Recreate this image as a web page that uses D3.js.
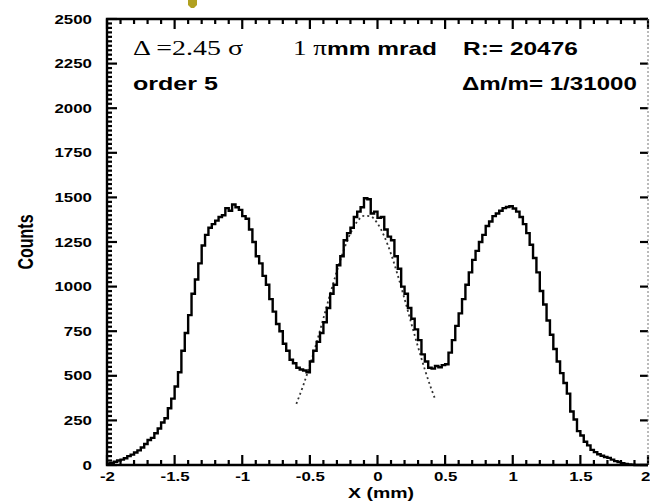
<!DOCTYPE html>
<html lang="en">
<head>
  <meta charset="UTF-8">
  <title>Counts vs X (mm)</title>
  <script src="https://d3js.org/d3.v7.min.js"></script>
  <style>
    body { margin: 0; background: #fff; }
    svg { display: block; }
    .tick text { font-family: "Liberation Sans", Arial, sans-serif; font-weight: bold; font-size: 12.5px; fill: #000; }
  </style>
</head>
<body>
  <div id="chart"></div>

  <script>
    // histogram: counts per 0.025 mm bin, starting at -2 mm
    const binStart = -2;
    const binWidth = 0.025;
    const counts = [
      8, 12, 18, 25, 30, 38, 50, 58, 70, 82, 98, 118, 140, 152, 178, 205, 238, 262, 318, 372,
      440, 520, 640, 740, 840, 960, 1040, 1130, 1230, 1290, 1330, 1350, 1370, 1390, 1400, 1440, 1425, 1460, 1445, 1430,
      1395, 1380, 1320, 1250, 1170, 1130, 1060, 1010, 930, 860, 790, 750, 680, 640, 590, 570, 545, 535, 530, 520,
      580, 640, 690, 740, 800, 880, 960, 1010, 1120, 1170, 1260, 1300, 1330, 1390, 1420, 1445, 1495, 1490, 1410, 1420,
      1385, 1390, 1320, 1280, 1260, 1170, 1100, 1000, 960, 880, 820, 760, 700, 620, 580, 545, 540, 555, 548, 560,
      565, 630, 700, 780, 850, 930, 1010, 1080, 1150, 1200, 1250, 1290, 1340, 1365, 1395, 1410, 1425, 1440, 1446, 1450,
      1438, 1420, 1390, 1350, 1300, 1235, 1160, 1080, 975, 900, 810, 730, 650, 580, 515, 460, 400, 300, 255, 190,
      165, 130, 110, 85, 72, 60, 52, 45, 40, 30, 22, 17, 10, 6, 3, 2, 0, 0, 0, 0
    ];

    // dotted fit of the middle peak
    const fitX = [-0.60, -0.55, -0.50, -0.45, -0.40, -0.35, -0.30, -0.25, -0.20, -0.15, -0.10, -0.05,
                  0.00, 0.05, 0.10, 0.15, 0.20, 0.25, 0.30, 0.35, 0.40, 0.43];
    const fitY = [343, 444, 559, 687, 822, 958, 1088, 1204, 1299, 1365, 1397, 1393,
                  1354, 1282, 1183, 1063, 931, 794, 661, 535, 422, 362];

    // axes
    const xTicks = [-2, -1.5, -1, -0.5, 0, 0.5, 1, 1.5, 2];
    const xTickLabels = ["-2", "-1.5", "-1", "-0.5", "0", "0.5", "1", "1.5", "2"];
    const yTicks = [0, 250, 500, 750, 1000, 1250, 1500, 1750, 2000, 2250, 2500];

    const W = 650, H = 502;
    const mLeft = 107, mRight = 648, mTop = 19, mBottom = 465;
    const sans = '"Liberation Sans", Arial, sans-serif';
    const serif = '"Liberation Serif", "Times New Roman", serif';

    const svg = d3.select("#chart").append("svg")
      .attr("width", W)
      .attr("height", H);

    const x = d3.scaleLinear().domain([-2, 2]).range([mLeft, mRight]);
    const y = d3.scaleLinear().domain([0, 2500]).range([mBottom, mTop]);

    // squash/stretch tick labels horizontally like the scanned figure
    function stretchTicks(g, sx) {
      g.selectAll(".tick text").each(function () {
        const t = d3.select(this);
        const tx = +t.attr("x") || 0, ty = +t.attr("y") || 0;
        t.attr("x", 0).attr("y", 0)
         .attr("transform", `translate(${tx},${ty}) scale(${sx},1)`);
      });
    }

    const xMinor = d3.range(-2, 2.001, 0.1).filter(v => Math.abs(v * 2 - Math.round(v * 2)) > 1e-6);
    const yMinor = d3.range(0, 2501, 25).filter(v => v % 250 !== 0);

    // dotted fit curve (under the histogram)
    const fitPts = fitX.map((v, i) => ({ x: v, c: fitY[i] }));
    svg.append("path")
       .datum(fitPts)
       .attr("fill", "none")
       .attr("stroke", "#333")
       .attr("stroke-width", 1.8)
       .attr("stroke-dasharray", "2,3")
       .attr("d", d3.line().x(d => x(d.x)).y(d => y(d.c)).curve(d3.curveMonotoneX));

    // tick labels
    const gLeft = svg.append("g").attr("transform", `translate(${mLeft},0)`);
    gLeft.call(d3.axisLeft(y).tickValues(yTicks).tickSize(0).tickPadding(15).tickFormat(d3.format("d")));
    stretchTicks(gLeft, 1.35);

    const gBottom = svg.append("g").attr("transform", `translate(0,${mBottom})`);
    gBottom.call(d3.axisBottom(x).tickValues(xTicks).tickSize(0).tickPadding(7)
      .tickFormat((d, i) => xTickLabels[i]));
    stretchTicks(gBottom, 1.35);
    // last label would run off the page: right-align it
    gBottom.selectAll(".tick text").filter(d => d === 2).attr("text-anchor", "end")
      .attr("transform", "translate(2,7) scale(1.35,1)");

    svg.selectAll(".domain").remove();

    // tick marks
    const tickG = svg.append("g").attr("stroke", "#000").attr("stroke-width", 2.2);
    function hTicks(vals, len, x0, dir) {
      tickG.selectAll(null).data(vals).enter().append("line")
        .attr("x1", x0).attr("x2", x0 + dir * len)
        .attr("y1", d => y(d)).attr("y2", d => y(d));
    }
    function vTicks(vals, len, y0, dir) {
      tickG.selectAll(null).data(vals).enter().append("line")
        .attr("y1", y0).attr("y2", y0 + dir * len)
        .attr("x1", d => x(d)).attr("x2", d => x(d));
    }
    hTicks(yTicks, 10, mLeft, 1);
    hTicks(yMinor, 5, mLeft, 1);
    hTicks(yTicks, 8, mRight, -1);
    vTicks(xTicks, 10, mBottom, -1);
    vTicks(xMinor, 5, mBottom, -1);
    vTicks(xTicks, 10, mTop, 1);
    vTicks(xMinor, 5, mTop, 1);

    // frame
    svg.append("path")
       .attr("d", `M${mRight},${mTop}H${mLeft}V${mBottom}H${mRight}`)
       .attr("fill", "none").attr("stroke", "#000").attr("stroke-width", 2.4);
    svg.append("line")
       .attr("x1", mRight).attr("x2", mRight).attr("y1", mTop).attr("y2", mBottom)
       .attr("stroke", "#777").attr("stroke-width", 1).attr("stroke-dasharray", "2,2");

    // histogram
    const steps = counts.map((c, i) => ({ x: binStart + i * binWidth, c }));
    steps.push({ x: binStart + counts.length * binWidth, c: counts[counts.length - 1] });
    svg.append("path")
       .datum(steps)
       .attr("fill", "none")
       .attr("stroke", "#000")
       .attr("stroke-width", 2.4)
       .attr("stroke-linejoin", "miter")
       .attr("d", d3.line().x(d => x(d.x)).y(d => y(d.c)).curve(d3.curveStepAfter));

    // text helper: place text so its left edge is at x0 and it spans width w
    function label(x0, y0, w, build) {
      const t = svg.append("text").attr("x", 0).attr("y", 0);
      build(t);
      const bw = t.node().getComputedTextLength();
      t.attr("transform", `translate(${x0},${y0}) scale(${w / bw},1)`);
      return t;
    }

    label(133, 55, 110, t => t.attr("font-family", serif).attr("font-size", 20).text("Δ =2.45 σ"));
    label(293, 55, 144, t => {
      t.attr("font-size", 18);
      t.append("tspan").attr("font-family", serif).attr("font-size", 20).text("1 π");
      t.append("tspan").attr("font-family", sans).attr("font-weight", "bold").text("mm mrad");
    });
    label(463, 55, 115, t => t.attr("font-family", sans).attr("font-weight", "bold").attr("font-size", 17.5).text("R:= 20476"));
    label(133, 90, 85, t => t.attr("font-family", sans).attr("font-weight", "bold").attr("font-size", 17.5).text("order 5"));
    label(462, 90, 175, t => t.attr("font-family", sans).attr("font-weight", "bold").attr("font-size", 17.5).text("Δm/m= 1/31000"));

    // axis titles
    svg.append("text")
       .attr("transform", `translate(33,242) scale(1.4,1) rotate(-90)`)
       .attr("text-anchor", "middle")
       .attr("font-family", sans).attr("font-weight", "bold").attr("font-size", 16)
       .text("Counts");
    svg.append("text")
       .attr("transform", `translate(381,498) scale(1.3,1)`)
       .attr("text-anchor", "middle")
       .attr("font-family", sans).attr("font-weight", "bold").attr("font-size", 15)
       .text("X (mm)");

    // bit of an arrow above the frame
    svg.append("path")
       .attr("d", "M188,0 L197,0 L197,5 L194,8 L191,8 L188,5 Z")
       .attr("fill", "#b0a020");
  </script>
</body>
</html>
